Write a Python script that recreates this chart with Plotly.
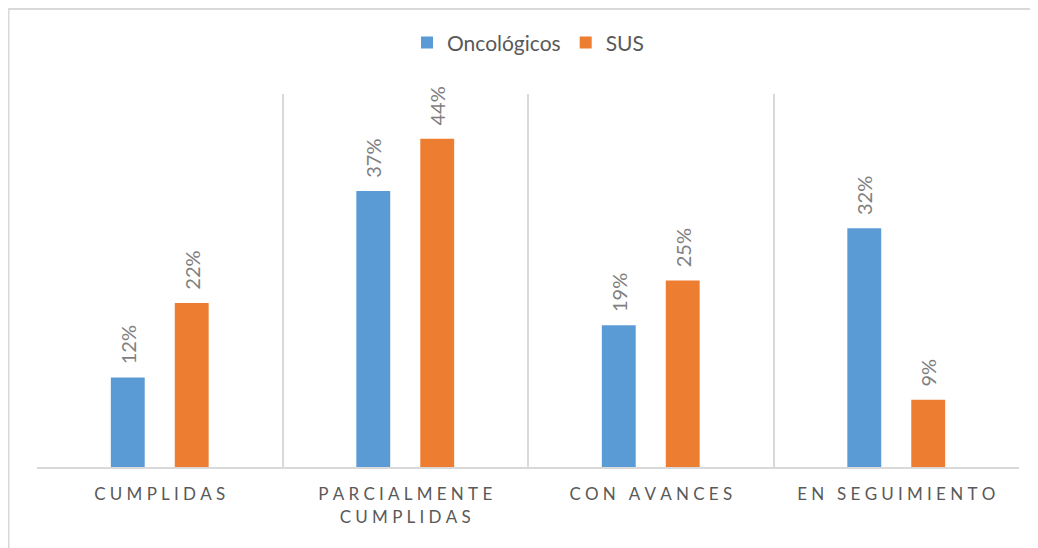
import plotly.graph_objects as go

categories = ["CUMPLIDAS", "PARCIALMENTE CUMPLIDAS", "CON AVANCES", "EN SEGUIMIENTO"]
oncologicos = [12, 37, 19, 32]
sus = [22, 44, 25, 9]


def spaced(label):
    # Excel-like letter spacing on the category labels
    words = ["\u2005".join(w) for w in label.split(" ")]
    if label.startswith("PARCIALMENTE"):
        return "<br>".join(words)
    return "\u2005\u00a0\u2005".join(words)


x_labels = [spaced(c) for c in categories]
label_font = dict(family="Lato", size=20, color="#7F7F7F")

fig = go.Figure()
fig.add_trace(go.Bar(
    x=x_labels, y=oncologicos, name="Oncológicos",
    marker=dict(color="#5B9BD5", line=dict(width=0)),
    texttemplate="\u00a0\u00a0%{y}%", textposition="outside", textangle=-90,
    textfont=label_font, constraintext="none", cliponaxis=False,
))
fig.add_trace(go.Bar(
    x=x_labels, y=sus, name="SUS",
    marker=dict(color="#ED7D31", line=dict(width=0)),
    texttemplate="\u00a0\u00a0%{y}%", textposition="outside", textangle=-90,
    textfont=label_font, constraintext="none", cliponaxis=False,
))

# page body has an 8px margin, so the figure is 8px smaller on each side
fig.update_layout(
    width=1030, height=540,
    margin=dict(l=29, r=19, t=86, b=81),
    paper_bgcolor="white", plot_bgcolor="white",
    barmode="group", bargap=0.479, bargroupgap=0.47,
    font=dict(family="Lato", color="#595959"),
    legend=dict(
        orientation="h", x=0.5, xanchor="center", y=1.137, yanchor="middle",
        font=dict(size=21, color="#595959"), itemwidth=30,
    ),
    showlegend=True,
)
fig.update_xaxes(
    tickson="boundaries", showgrid=True, gridcolor="#D9D9D9", gridwidth=1.5,
    showline=True, linecolor="#D9D9D9", linewidth=2, ticks="",
    tickfont=dict(size=17, color="#595959"), ticklabelstandoff=11,
    tickangle=0,
)
fig.update_yaxes(range=[0, 50], visible=False, showgrid=False, zeroline=False)

# outer chart frame
fig.add_shape(type="rect", xref="paper", yref="paper",
              x0=-0.029, x1=1.05, y0=-0.3, y1=1.228,
              line=dict(color="#D9D9D9", width=2), layer="below")

fig.write_html("out.html")
